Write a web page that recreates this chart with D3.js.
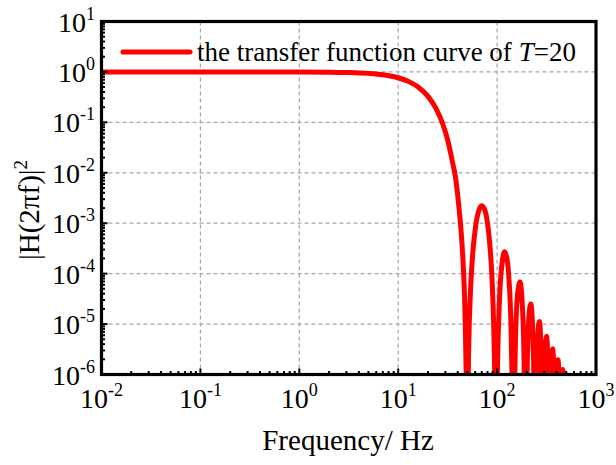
<!DOCTYPE html>
<html>
<head>
<meta charset="utf-8">
<script src="https://cdn.jsdelivr.net/npm/d3@7"></script>
<style>
  body { margin: 0; background: #fff; }
  text { font-family: "Liberation Serif", "Times New Roman", serif; fill: #000; }
</style>
</head>
<body>
<svg width="616" height="465"></svg>
<script>
// values
const freqHz = [
  0.01, 0.1, 1, 2, 3, 5, 7, 10, 13, 16, 20, 24, 28, 32, 35, 38, 41, 43.5, 45.5, 47, 48.2, 49, 49.5,
  50.5, 51.4, 53.3, 56.2, 60.1, 64.9, 69.7, 74.5, 79.3, 84.1, 88.9, 92.7, 94.6, 97.5,
  99.9, 104.8, 112.1, 119.3, 126.6, 131.5, 138.7, 143.6, 146,
  148.4, 153.3, 160.6, 170.3, 180, 187.2, 192.1, 194.5,
  199.4, 209.1, 218.8, 228.5, 238.2, 243,
  247.9, 257.6, 267.3, 276.9, 286.7, 291.5,
  296.4, 306, 315.8, 325.5, 335.2, 340,
  344.9, 354.6, 364.3, 373.9, 383.7, 388.5,
  393.4, 403.1, 412.8, 422.5, 432.2, 437,
  446.7, 461.3, 475.8, 485.5
];
const powerH2 = [
  1, 1, 0.997, 0.99, 0.976, 0.936, 0.878, 0.766, 0.635, 0.498, 0.328, 0.192, 0.097, 0.041, 0.018, 0.008, 0.0022, 6e-4, 1.4e-4, 3e-5, 3e-6, 2e-7, 1e-9,
  1.5e-7, 2.2e-6, 2.9e-5, 2.0e-4, 7.6e-4, 1.72e-3, 2.22e-3, 1.91e-3, 1.11e-3, 4.1e-4, 7.7e-5, 7.2e-6, 9e-7, 1e-9,
  3.5e-7, 2.0e-5, 1.57e-4, 2.71e-4, 1.84e-4, 8.3e-5, 6.6e-6, 8e-8, 1e-9,
  7e-8, 4.4e-6, 3.7e-5, 6.8e-5, 2.35e-5, 2.0e-6, 2.6e-8, 1e-9,
  3.3e-7, 1.29e-5, 2.5e-5, 9.0e-6, 1.6e-7, 1e-9,
  1.4e-7, 5.6e-6, 1.12e-5, 4.2e-6, 7.7e-8, 1e-9,
  6.8e-8, 2.8e-6, 5.75e-6, 2.2e-6, 4e-8, 1e-9,
  3.5e-8, 1.55e-6, 3.24e-6, 1.25e-6, 2.3e-8, 1e-9,
  2e-8, 9.3e-7, 1.97e-6, 7.7e-7, 1.5e-8, 1e-9,
  1.7e-7, 1.26e-6, 1.3e-7, 1e-9
];
const xTickExps = [-2, -1, 0, 1, 2, 3];
const yTickExps = [1, 0, -1, -2, -3, -4, -5, -6];
const legendText = 'the transfer function curve of ';
const legendVar = 'T';
const legendValue = '=20';

const svg = d3.select('svg');
const plotL = 101.5, plotR = 596, plotT = 21.5, plotB = 374.5;

const x = d3.scaleLog().domain([1e-2, 1e3]).range([plotL, plotR]);
const y = d3.scaleLog().domain([1e-6, 1e1]).range([plotB, plotT]);

// grid
const grid = svg.append('g')
  .attr('stroke', '#a6a6a6')
  .attr('stroke-width', 1.2)
  .attr('stroke-dasharray', '4,3');
grid.selectAll('.gx').data(xTickExps.slice(1, -1)).join('line')
  .attr('x1', d => x(10 ** d)).attr('x2', d => x(10 ** d))
  .attr('y1', plotT).attr('y2', plotB);
grid.selectAll('.gy').data(yTickExps.slice(1, -1)).join('line')
  .attr('y1', d => y(10 ** d)).attr('y2', d => y(10 ** d))
  .attr('x1', plotL).attr('x2', plotR);

// curve
svg.append('clipPath').attr('id', 'clip')
  .append('rect')
  .attr('x', plotL).attr('y', plotT)
  .attr('width', plotR - plotL).attr('height', plotB - plotT);

const pts = freqHz.map((f, i) => [f, powerH2[i]]);
const line = d3.line()
  .x(d => x(d[0]))
  .y(d => y(d[1]))
  .curve(d3.curveMonotoneX);

svg.append('path')
  .attr('clip-path', 'url(#clip)')
  .attr('d', line(pts))
  .attr('fill', 'none')
  .attr('stroke', '#ff0000')
  .attr('stroke-width', 5)
  .attr('stroke-linejoin', 'round');

// ticks, inward on left and bottom
const minorX = [], minorY = [];
for (let e = -2; e < 3; e++) for (let m = 2; m < 10; m++) minorX.push(m * 10 ** e);
for (let e = -6; e < 1; e++) for (let m = 2; m < 10; m++) minorY.push(m * 10 ** e);

const tk = svg.append('g').attr('stroke', '#000').attr('stroke-width', 2);
tk.selectAll('.mx').data(minorX).join('line')
  .attr('x1', d => x(d)).attr('x2', d => x(d))
  .attr('y1', plotB).attr('y2', plotB - 3.5);
tk.selectAll('.Mx').data(xTickExps).join('line')
  .attr('x1', d => x(10 ** d)).attr('x2', d => x(10 ** d))
  .attr('y1', plotB).attr('y2', plotB - 6);
tk.selectAll('.my').data(minorY).join('line')
  .attr('y1', d => y(d)).attr('y2', d => y(d))
  .attr('x1', plotL).attr('x2', plotL + 3.5);
tk.selectAll('.My').data(yTickExps).join('line')
  .attr('y1', d => y(10 ** d)).attr('y2', d => y(10 ** d))
  .attr('x1', plotL).attr('x2', plotL + 6);

// frame
svg.append('rect')
  .attr('x', plotL).attr('y', plotT)
  .attr('width', plotR - plotL).attr('height', plotB - plotT)
  .attr('fill', 'none')
  .attr('stroke', '#000')
  .attr('stroke-width', 3.2);

// tick labels
const xl = svg.selectAll('.xl').data(xTickExps).join('text')
  .attr('x', d => x(10 ** d))
  .attr('y', 408)
  .attr('text-anchor', 'middle')
  .style('font-size', '28px');
xl.append('tspan').text('10');
xl.append('tspan').attr('dy', -12).style('font-size', '18px').text(d => d);

const yl = svg.selectAll('.yl').data(yTickExps).join('text')
  .attr('x', 95)
  .attr('y', d => y(10 ** d) + 10)
  .attr('text-anchor', 'end')
  .style('font-size', '28px');
yl.append('tspan').text('10');
yl.append('tspan').attr('dy', -12).style('font-size', '18px').text(d => d);

// axis titles
svg.append('text')
  .attr('x', 348).attr('y', 450)
  .attr('text-anchor', 'middle')
  .style('font-size', '29px')
  .text('Frequency/ Hz');

const yt = svg.append('text')
  .attr('transform', 'translate(39,210) rotate(-90)')
  .attr('text-anchor', 'middle')
  .style('font-size', '29px');
yt.append('tspan').text('|H(2πf)|');
yt.append('tspan').attr('dy', -12).style('font-size', '19px').text('2');

// legend
svg.append('line')
  .attr('x1', 123).attr('x2', 190)
  .attr('y1', 52).attr('y2', 52)
  .attr('stroke', '#ff0000')
  .attr('stroke-width', 5)
  .attr('stroke-linecap', 'round');
const lg = svg.append('text')
  .attr('x', 197).attr('y', 61)
  .style('font-size', '27px');
lg.append('tspan').text(legendText);
lg.append('tspan').style('font-style', 'italic').text(legendVar);
lg.append('tspan').text(legendValue);
</script>
</body>
</html>
